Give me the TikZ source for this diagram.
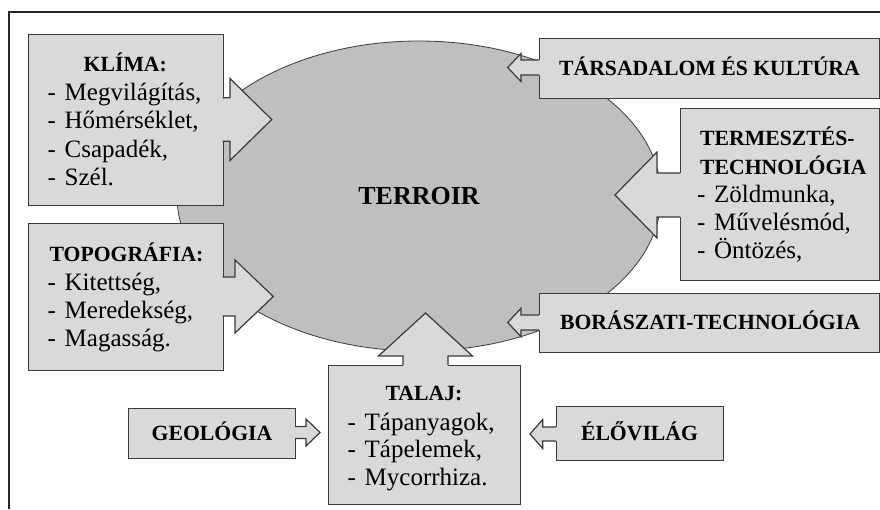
\documentclass[tikz,border=0pt]{standalone}
\usepackage{fontspec}
\setmainfont{Liberation Serif}
\usetikzlibrary{shapes.geometric}
\definecolor{boxfill}{HTML}{D9D9D9}
\definecolor{ellfill}{HTML}{BFBFBF}
\definecolor{edgecol}{HTML}{3A3A3A}
\newcommand{\listline}[1]{\makebox[17pt][l]{-}#1}
% horizontal callout arrow: fill-start x, base x, step x, tip x, centre y, shaft half, head half
\newcommand{\harrow}[7]{%
  \fill[boxfill] (#1,#5-#6) -- (#3,#5-#6) -- (#3,#5-#7) -- (#4,#5) -- (#3,#5+#7) -- (#3,#5+#6) -- (#1,#5+#6) -- cycle;
  \draw[arrowline] (#2,#5-#6) -- (#3,#5-#6) -- (#3,#5-#7) -- (#4,#5) -- (#3,#5+#7) -- (#3,#5+#6) -- (#2,#5+#6);}
% vertical callout arrow: fill-start y, base y, step y, tip y, centre x, shaft half, head half
\newcommand{\varrow}[7]{%
  \fill[boxfill] (#5-#6,#1) -- (#5-#6,#3) -- (#5-#7,#3) -- (#5,#4) -- (#5+#7,#3) -- (#5+#6,#3) -- (#5+#6,#1) -- cycle;
  \draw[arrowline] (#5-#6,#2) -- (#5-#6,#3) -- (#5-#7,#3) -- (#5,#4) -- (#5+#7,#3) -- (#5+#6,#3) -- (#5+#6,#2);}
\begin{document}
\begin{tikzpicture}[x=1pt,y=-1pt,
  box/.style={draw=edgecol, line width=1.2pt, fill=boxfill, inner sep=0pt, anchor=north west},
  arrowline/.style={draw=edgecol, line width=1.2pt, line join=miter},
  title/.style={font=\bfseries\fontsize{21.7}{24}\selectfont, anchor=base, inner sep=0pt},
  titlew/.style={font=\bfseries\fontsize{21.7}{24}\selectfont, anchor=base west, inner sep=0pt},
  item/.style={font=\fontsize{25}{28}\selectfont, anchor=base west, inner sep=0pt},
  frame/.style={draw=black!85, line width=1.3pt}]
\useasboundingbox (0,0) rectangle (880,509);
\fill[white] (0,0) rectangle (880,509);
\draw[frame] (9,509) -- (9,12) -- (880,12);

% central ellipse
\node[ellipse, draw=edgecol, line width=0.8pt, fill=ellfill, minimum width=484pt, minimum height=310pt,
      inner sep=0pt, font=\bfseries\fontsize{26}{30}\selectfont] (terroir) at (419,196) {TERROIR};

% boxes
\node[box, minimum width=194.5pt, minimum height=171pt] (klima) at (28,34) {};
\node[box, minimum width=194.5pt, minimum height=147pt] (topo) at (28,223) {};
\node[box, minimum width=340pt, minimum height=60pt] (tars) at (539,38) {};
\node[box, minimum width=199pt, minimum height=172pt] (term) at (680,108) {};
\node[box, minimum width=340pt, minimum height=59pt] (bor) at (539,293) {};
\node[box, minimum width=192pt, minimum height=139pt] (talaj) at (328,365) {};
\node[box, minimum width=167pt, minimum height=50pt] (geo) at (128,407.5) {};
\node[box, minimum width=167pt, minimum height=54pt] (elo) at (556,406) {};

% callout arrows
\harrow{220.5}{222.5}{230}{271.7}{119.5}{21.7}{41}
\harrow{220.5}{222.5}{235}{273.3}{296.5}{19.5}{36.5}
\harrow{541}{539}{521}{507.7}{67.5}{7.5}{14}
\harrow{682}{680}{657}{615}{195}{22}{43}
\harrow{541}{539}{521}{507.7}{322.5}{7.5}{14.2}
\harrow{293}{295}{306}{320}{432.5}{6}{13.5}
\harrow{558}{556}{542.7}{530}{434}{7}{14.5}
\varrow{367}{365}{356}{313}{425.5}{22.5}{47}

% texts
\node[title] (klimat) at (125.3,71.7) {KLÍMA:};
\node[item] (k1) at (47.5,100) {\listline{Megvilágítás,}};
\node[item] (k2) at (47.5,128.5) {\listline{Hőmérséklet,}};
\node[item] (k3) at (47.5,157) {\listline{Csapadék,}};
\node[item] (k4) at (47.5,185.3) {\listline{Szél.}};

\node[title] (topot) at (126.5,261.7) {TOPOGRÁFIA:};
\node[item] (t1) at (47.5,290) {\listline{Kitettség,}};
\node[item] (t2) at (47.5,318.3) {\listline{Meredekség,}};
\node[item] (t3) at (47.5,346.5) {\listline{Magasság.}};

\node[title] (tarst) at (709.5,75) {TÁRSADALOM ÉS KULTÚRA};

\node[titlew] (termt1) at (700,145.5) {TERMESZTÉS-};
\node[titlew] (termt2) at (700,174) {TECHNOLÓGIA};
\node[item] (m1) at (697,202.3) {\listline{Zöldmunka,}};
\node[item] (m2) at (697,230.6) {\listline{Művelésmód,}};
\node[item] (m3) at (697,258.9) {\listline{Öntözés,}};

\node[title] (bort) at (710,329.5) {BORÁSZATI-TECHNOLÓGIA};

\node[title] (talajt) at (424,400) {TALAJ:};
\node[item] (a1) at (347.5,430) {\listline{Tápanyagok,}};
\node[item] (a2) at (347.5,457.5) {\listline{Tápelemek,}};
\node[item] (a3) at (347.5,485.5) {\listline{Mycorrhiza.}};

\node[title] (geot) at (212,440) {GEOLÓGIA};
\node[title] (elot) at (639.5,440.5) {ÉLŐVILÁG};
\end{tikzpicture}
\end{document}
